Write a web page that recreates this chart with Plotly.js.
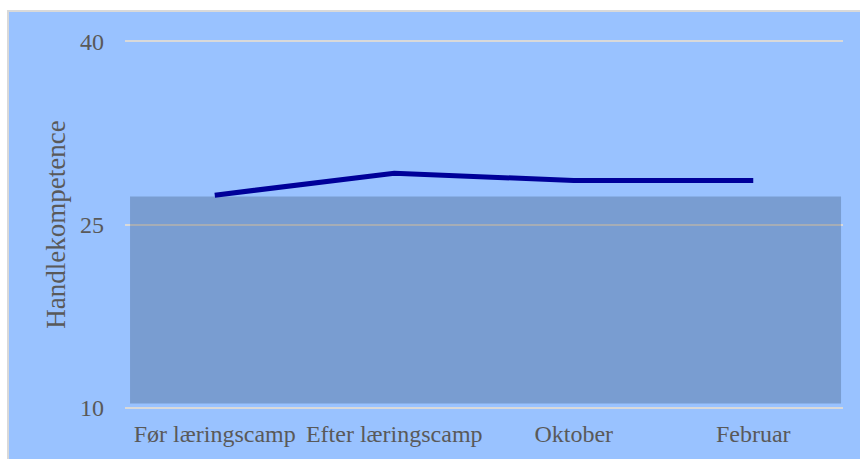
<!DOCTYPE html>
<html>
<head>
<meta charset="utf-8">
<script src="https://cdn.plot.ly/plotly-3.0.1.min.js"></script>
<style>
  html, body { margin: 0; padding: 0; background: #ffffff; width: 860px; height: 459px; overflow: hidden; }
  #wrap { position: absolute; left: 7px; top: 10px; width: 853px; height: 449px; border-left: 2px solid #d9d9d9; border-top: 2px solid #d9d9d9; }
  #chart { position: absolute; left: 0; top: 0; width: 851px; height: 447px; }
</style>
</head>
<body>
<div id="wrap"><div id="chart"></div></div>
<script>
// Data
const categories = ["Før læringscamp", "Efter læringscamp", "Oktober", "Februar"];
const handlekompetence = [27.4, 29.2, 28.6, 28.6];
const bandLow = 10.35;
const bandHigh = 27.3;
const yTicks = [10, 25, 40];

const traces = [
  {
    type: "scatter",
    mode: "lines",
    x: categories,
    y: handlekompetence,
    line: { color: "#000099", width: 5 },
    hoverinfo: "skip",
    showlegend: false
  }
];

const layout = {
  width: 851,
  height: 447,
  margin: { l: 116, r: 17, t: 28, b: 50 },
  paper_bgcolor: "#99c2ff",
  plot_bgcolor: "#99c2ff",
  showlegend: false,
  font: { family: "Liberation Serif, Times New Roman, serif", color: "#595959" },
  xaxis: {
    type: "category",
    range: [-0.5, 3.5],
    showgrid: false,
    zeroline: false,
    showline: false,
    ticks: "",
    ticklabelstandoff: 8,
    tickfont: { size: 24, color: "#595959" },
    fixedrange: true
  },
  yaxis: {
    range: [9.9, 40.1],
    tickvals: yTicks,
    ticktext: yTicks.map(String),
    showgrid: true,
    gridcolor: "#d9d9d9",
    gridwidth: 2,
    zeroline: false,
    showline: false,
    ticks: "",
    ticklabelstandoff: 20,
    tickfont: { size: 24, color: "#595959" },
    title: { text: "Handlekompetence", font: { size: 27, color: "#595959" }, standoff: 6 },
    fixedrange: true
  },
  shapes: [
    {
      type: "rect",
      layer: "between",
      xref: "x",
      yref: "y",
      x0: -0.472,
      x1: 3.489,
      y0: bandLow,
      y1: bandHigh,
      fillcolor: "rgba(50,74,102,0.3)",
      line: { width: 0 }
    }
  ]
};

Plotly.newPlot("chart", traces, layout, { staticPlot: true, displayModeBar: false });
</script>
</body>
</html>
